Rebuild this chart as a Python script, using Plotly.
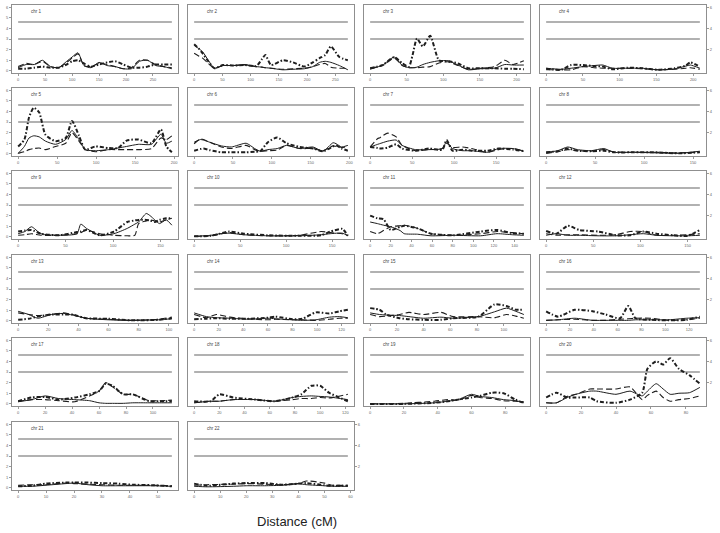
import plotly.graph_objects as go

# genetic length of each chromosome (cM) and x tick spacing
chrom_len = [285, 272, 210, 209, 197, 198, 183, 157, 162, 167, 149, 163,
             102, 125, 115, 129, 114, 122, 91, 88, 55, 59]
tick_step = [50] * 10 + [20, 50] + [20] * 8 + [10, 10]
thresholds = [3.0, 4.6]

# positions (cM) and LOD scores: solid, dashed, dash-dot
c1_pos = [0, 15, 30, 45, 60, 75, 90, 100, 111, 122, 135, 150, 165, 180, 195, 210, 225, 240, 255, 270, 285]
c1_sol = [0.3, 0.6, 0.6, 1.0, 0.4, 0.3, 0.9, 1.3, 1.7, 0.5, 0.3, 0.8, 0.5, 0.4, 0.2, 0.2, 0.9, 1.0, 0.5, 0.4, 0.2]
c1_das = [0.4, 0.7, 0.6, 0.9, 0.4, 0.3, 0.8, 1.2, 1.6, 0.5, 0.4, 0.7, 0.6, 0.4, 0.2, 0.3, 1.0, 1.0, 0.6, 0.4, 0.3]
c1_dot = [0.2, 0.2, 0.3, 0.4, 0.3, 0.3, 0.6, 0.9, 1.0, 0.7, 0.4, 0.6, 0.8, 0.9, 0.6, 0.3, 0.3, 0.4, 0.6, 0.6, 0.6]

c2_pos = [0, 8, 15, 25, 36, 51, 70, 90, 110, 120, 126, 136, 157, 175, 195, 210, 222, 232, 242, 257, 272]
c2_sol = [2.4, 2.1, 1.8, 1.0, 0.25, 0.5, 0.5, 0.55, 0.4, 0.35, 0.3, 0.25, 0.1, 0.15, 0.2, 0.4, 0.8, 0.9, 0.8, 0.5, 0.1]
c2_das = [1.65, 1.4, 1.2, 0.7, 0.25, 0.5, 0.5, 0.6, 0.4, 0.35, 0.3, 0.25, 0.15, 0.2, 0.25, 0.4, 0.6, 0.7, 0.35, 0.25, 0.25]
c2_dot = [2.5, 2.1, 1.65, 0.9, 0.25, 0.55, 0.5, 0.55, 0.45, 1.1, 1.5, 0.55, 1.0, 0.8, 0.4, 0.8, 1.2, 1.5, 2.3, 1.3, 1.0]

c3_pos = [0, 17, 33, 44, 53, 58, 64, 72, 82, 94, 107, 120, 134, 150, 170, 184, 195, 210]
c3_sol = [0.15, 0.55, 1.3, 0.5, 0.3, 0.3, 0.35, 0.6, 0.8, 0.95, 0.95, 0.55, 0.1, 0.2, 0.25, 0.6, 0.55, 0.55]
c3_das = [0.25, 0.5, 1.2, 0.5, 0.3, 0.3, 0.3, 0.35, 0.4, 0.75, 0.85, 0.5, 0.15, 0.25, 0.4, 1.0, 0.6, 0.95]
c3_dot = [0.25, 0.55, 1.3, 0.7, 0.4, 1.5, 3.05, 2.3, 3.3, 1.0, 0.9, 0.7, 0.25, 0.25, 0.25, 0.2, 0.2, 0.15]

c4_pos = [0, 20, 34, 50, 65, 77, 90, 110, 130, 153, 175, 190, 196, 209]
c4_sol = [0.25, 0.15, 0.25, 0.4, 0.5, 0.55, 0.25, 0.25, 0.25, 0.1, 0.2, 0.45, 0.55, 0.25]
c4_das = [0.1, 0.1, 0.1, 0.4, 0.3, 0.25, 0.25, 0.25, 0.2, 0.1, 0.15, 0.25, 0.3, 0.15]
c4_dot = [0.2, 0.1, 0.55, 0.55, 0.45, 0.4, 0.15, 0.3, 0.25, 0.1, 0.25, 0.5, 0.8, 0.4]

c5_pos = [0, 8, 14, 20, 27, 35, 48, 61, 69, 78, 86, 99, 116, 128, 139, 154, 171, 183, 190, 197]
c5_sol = [0.05, 0.7, 1.5, 1.7, 1.6, 1.2, 0.9, 1.35, 2.2, 1.35, 0.4, 0.3, 0.4, 0.55, 0.7, 0.9, 0.9, 1.85, 1.0, 1.2]
c5_das = [0.05, 0.2, 0.4, 0.5, 0.55, 0.4, 0.7, 1.0, 2.0, 1.2, 0.4, 0.2, 0.4, 0.4, 0.4, 0.4, 0.5, 1.5, 1.35, 1.7]
c5_dot = [0.7, 1.35, 3.45, 4.35, 3.9, 1.8, 1.2, 1.5, 3.1, 1.7, 0.4, 0.7, 0.55, 0.55, 1.25, 1.35, 1.0, 2.3, 0.7, 0.15]

c6_pos = [0, 8, 12, 20, 35, 48, 67, 78, 85, 95, 107, 119, 136, 153, 166, 179, 183, 190, 198]
c6_sol = [1.1, 1.35, 1.3, 1.1, 0.75, 0.65, 1.0, 0.5, 0.25, 0.4, 0.5, 0.8, 0.5, 0.65, 0.25, 1.05, 0.95, 0.65, 0.8]
c6_das = [0.95, 1.4, 1.35, 1.1, 0.65, 0.5, 0.8, 0.4, 0.25, 0.3, 0.35, 0.8, 0.5, 0.5, 0.3, 0.75, 0.7, 0.6, 0.65]
c6_dot = [0.3, 0.45, 0.5, 0.35, 0.15, 0.15, 0.15, 0.2, 0.25, 1.1, 1.55, 1.0, 0.65, 0.5, 0.25, 0.7, 0.8, 0.5, 0.3]

c7_pos = [0, 9, 11, 21, 31, 38, 54, 70, 86, 91, 98, 110, 121, 140, 153, 170, 183]
c7_sol = [0.65, 0.9, 0.95, 1.2, 1.3, 0.8, 0.4, 0.4, 0.5, 1.15, 0.5, 0.3, 0.3, 0.15, 0.5, 0.5, 0.25]
c7_das = [0.65, 1.45, 1.5, 1.95, 1.6, 0.8, 0.3, 0.4, 0.5, 1.0, 0.6, 0.65, 0.5, 0.15, 0.4, 0.5, 0.25]
c7_dot = [0.65, 0.55, 0.5, 0.6, 0.9, 0.5, 0.3, 0.5, 0.4, 1.3, 0.3, 0.4, 0.3, 0.3, 0.5, 0.4, 0.25]

c8_pos = [0, 12, 22, 32, 46, 59, 69, 90, 110, 135, 157]
c8_sol = [0.15, 0.3, 0.65, 0.4, 0.3, 0.5, 0.15, 0.15, 0.1, 0.05, 0.25]
c8_das = [0.05, 0.2, 0.4, 0.3, 0.25, 0.4, 0.2, 0.15, 0.15, 0.1, 0.15]
c8_dot = [0.15, 0.25, 0.5, 0.3, 0.25, 0.3, 0.15, 0.15, 0.15, 0.05, 0.15]

c9_pos = [0, 7, 14, 24, 43, 62, 66, 72, 86, 101, 115, 123, 127, 135, 139, 144, 149, 156, 162]
c9_sol = [0.3, 0.5, 0.95, 0.3, 0.15, 0.3, 1.2, 0.8, 0.15, 0.3, 0.8, 1.2, 1.4, 2.2, 2.0, 1.6, 1.25, 1.6, 1.1]
c9_das = [0.15, 0.2, 0.3, 0.15, 0.15, 0.3, 0.4, 0.65, 0.3, 0.15, 0.1, 0.15, 1.25, 1.5, 1.6, 1.5, 1.4, 1.6, 1.75]
c9_dot = [0.5, 0.6, 0.65, 0.3, 0.15, 0.45, 0.5, 0.65, 0.15, 0.5, 1.4, 1.55, 1.6, 1.6, 1.55, 1.4, 1.6, 1.75, 1.75]

c10_pos = [0, 18, 28, 38, 54, 80, 114, 138, 148, 161, 167]
c10_sol = [0.05, 0.15, 0.3, 0.35, 0.2, 0.1, 0.1, 0.2, 0.3, 0.35, 0.1]
c10_das = [0.05, 0.1, 0.25, 0.4, 0.2, 0.1, 0.15, 0.5, 0.4, 0.3, 0.15]
c10_dot = [0.05, 0.1, 0.3, 0.5, 0.3, 0.15, 0.1, 0.15, 0.5, 0.75, 0.1]

c11_pos = [0, 7, 13, 20, 29, 33, 46, 59, 81, 107, 123, 138, 149]
c11_sol = [1.4, 1.25, 1.1, 0.95, 0.6, 0.3, 0.25, 0.1, 0.15, 0.1, 0.3, 0.2, 0.15]
c11_das = [0.5, 0.3, 0.6, 0.95, 1.05, 1.1, 0.8, 0.3, 0.15, 0.3, 0.5, 0.4, 0.3]
c11_dot = [2.0, 1.75, 1.65, 0.65, 0.95, 1.05, 0.8, 0.3, 0.15, 0.5, 0.65, 0.35, 0.3]

c12_pos = [0, 11, 23, 35, 55, 74, 89, 103, 117, 135, 150, 163]
c12_sol = [0.15, 0.3, 0.15, 0.15, 0.1, 0.1, 0.2, 0.3, 0.15, 0.1, 0.1, 0.15]
c12_das = [0.3, 0.15, 0.2, 0.2, 0.15, 0.2, 0.5, 0.5, 0.15, 0.15, 0.2, 0.3]
c12_dot = [0.55, 0.3, 1.05, 0.65, 0.5, 0.15, 0.15, 0.5, 0.3, 0.15, 0.1, 0.65]

c13_pos = [0, 7, 13, 22, 30, 36, 45, 60, 75, 93, 102]
c13_sol = [0.9, 0.6, 0.25, 0.6, 0.7, 0.55, 0.25, 0.1, 0.05, 0.1, 0.2]
c13_das = [0.75, 0.6, 0.5, 0.6, 0.75, 0.6, 0.25, 0.15, 0.05, 0.15, 0.35]
c13_dot = [0.1, 0.2, 0.4, 0.6, 0.6, 0.6, 0.25, 0.2, 0.05, 0.1, 0.25]

c14_pos = [0, 10, 18, 29, 44, 60, 66, 80, 88, 99, 110, 118, 125]
c14_sol = [0.75, 0.4, 0.3, 0.25, 0.15, 0.25, 0.2, 0.1, 0.05, 0.1, 0.35, 0.4, 0.3]
c14_das = [0.6, 0.3, 0.6, 0.35, 0.2, 0.1, 0.15, 0.1, 0.1, 0.05, 0.15, 0.25, 0.25]
c14_dot = [0.15, 0.2, 0.25, 0.2, 0.2, 0.3, 0.4, 0.15, 0.2, 0.8, 0.7, 0.9, 1.05]

c15_pos = [0, 7, 12, 22, 29, 40, 53, 62, 81, 93, 102, 109, 115]
c15_sol = [0.75, 0.6, 0.55, 0.5, 0.4, 0.25, 0.35, 0.25, 0.4, 0.85, 1.2, 0.9, 0.6]
c15_das = [0.6, 0.4, 0.45, 0.6, 0.8, 0.6, 0.8, 0.4, 0.4, 0.3, 0.6, 0.45, 0.25]
c15_dot = [1.2, 1.05, 0.6, 0.25, 0.15, 0.1, 0.1, 0.25, 0.4, 1.55, 1.4, 1.05, 1.05]

c16_pos = [0, 10, 24, 39, 50, 62, 69, 75, 88, 103, 118, 129]
c16_sol = [0.05, 0.1, 0.25, 0.05, 0.05, 0.05, 0.05, 0.1, 0.1, 0.1, 0.25, 0.3]
c16_das = [0.05, 0.1, 0.15, 0.05, 0.05, 0.15, 0.2, 0.25, 0.25, 0.05, 0.1, 0.25]
c16_dot = [0.9, 0.4, 1.05, 0.9, 0.6, 0.25, 1.4, 0.25, 0.1, 0.05, 0.1, 0.4]

c17_pos = [0, 10, 20, 30, 42, 53, 60, 65, 70, 78, 85, 97, 105, 114]
c17_sol = [0.2, 0.4, 0.75, 0.5, 0.4, 0.3, 0.1, 0.05, 0.05, 0.05, 0.1, 0.1, 0.1, 0.1]
c17_das = [0.25, 0.4, 0.4, 0.3, 0.2, 0.75, 1.2, 2.0, 1.6, 0.9, 0.9, 0.3, 0.3, 0.35]
c17_dot = [0.25, 0.6, 0.65, 0.4, 0.6, 0.9, 1.2, 1.9, 1.7, 0.9, 0.9, 0.25, 0.25, 0.25]

c18_pos = [0, 13, 20, 31, 49, 64, 78, 85, 93, 100, 107, 122]
c18_sol = [0.1, 0.25, 0.25, 0.4, 0.4, 0.25, 0.6, 0.7, 0.75, 0.7, 0.65, 0.4]
c18_das = [0.1, 0.25, 0.25, 0.4, 0.4, 0.25, 0.4, 0.5, 0.5, 0.6, 0.55, 0.9]
c18_dot = [0.25, 0.25, 0.9, 0.6, 0.4, 0.25, 0.6, 0.9, 1.7, 1.7, 1.05, 0.25]

c19_pos = [0, 20, 38, 46, 52, 60, 65, 72, 79, 86, 91]
c19_sol = [0.0, 0.0, 0.1, 0.25, 0.4, 0.9, 0.7, 0.6, 0.4, 0.3, 0.1]
c19_das = [0.0, 0.05, 0.25, 0.4, 0.35, 0.8, 0.6, 0.5, 0.3, 0.25, 0.2]
c19_dot = [0.0, 0.0, 0.1, 0.25, 0.4, 0.6, 0.75, 1.05, 1.0, 0.4, 0.1]

c20_pos = [0, 6, 12, 17, 25, 29, 40, 48, 55, 58, 63, 67, 71, 76, 82, 88]
c20_sol = [0.1, 0.1, 0.6, 0.9, 1.2, 1.2, 0.9, 1.2, 0.75, 1.2, 1.9, 1.4, 0.9, 1.0, 1.05, 1.55]
c20_das = [0.1, 0.1, 0.7, 0.9, 1.4, 1.4, 1.4, 1.6, 0.4, 0.8, 1.2, 0.6, 0.25, 0.4, 0.5, 0.75]
c20_dot = [0.6, 1.05, 0.6, 0.6, 0.6, 0.25, 0.1, 0.4, 1.05, 3.3, 4.0, 3.7, 4.3, 3.3, 2.7, 1.9]

c21_pos = [0, 5, 10, 17, 20, 25, 30, 36, 41, 48, 55]
c21_sol = [0.15, 0.15, 0.25, 0.4, 0.45, 0.3, 0.2, 0.2, 0.2, 0.2, 0.15]
c21_das = [0.25, 0.3, 0.3, 0.45, 0.4, 0.35, 0.3, 0.25, 0.25, 0.25, 0.2]
c21_dot = [0.15, 0.2, 0.4, 0.5, 0.5, 0.5, 0.45, 0.4, 0.3, 0.25, 0.15]

c22_pos = [0, 5, 15, 20, 27, 34, 40, 43, 50, 53, 59]
c22_sol = [0.15, 0.1, 0.15, 0.2, 0.2, 0.25, 0.4, 0.3, 0.2, 0.15, 0.15]
c22_das = [0.25, 0.3, 0.35, 0.4, 0.35, 0.3, 0.4, 0.65, 0.45, 0.25, 0.25]
c22_dot = [0.4, 0.2, 0.4, 0.45, 0.45, 0.3, 0.4, 0.45, 0.25, 0.2, 0.2]

chroms = [
    (c1_pos, c1_sol, c1_das, c1_dot), (c2_pos, c2_sol, c2_das, c2_dot),
    (c3_pos, c3_sol, c3_das, c3_dot), (c4_pos, c4_sol, c4_das, c4_dot),
    (c5_pos, c5_sol, c5_das, c5_dot), (c6_pos, c6_sol, c6_das, c6_dot),
    (c7_pos, c7_sol, c7_das, c7_dot), (c8_pos, c8_sol, c8_das, c8_dot),
    (c9_pos, c9_sol, c9_das, c9_dot), (c10_pos, c10_sol, c10_das, c10_dot),
    (c11_pos, c11_sol, c11_das, c11_dot), (c12_pos, c12_sol, c12_das, c12_dot),
    (c13_pos, c13_sol, c13_das, c13_dot), (c14_pos, c14_sol, c14_das, c14_dot),
    (c15_pos, c15_sol, c15_das, c15_dot), (c16_pos, c16_sol, c16_das, c16_dot),
    (c17_pos, c17_sol, c17_das, c17_dot), (c18_pos, c18_sol, c18_das, c18_dot),
    (c19_pos, c19_sol, c19_das, c19_dot), (c20_pos, c20_sol, c20_das, c20_dot),
    (c21_pos, c21_sol, c21_das, c21_dot), (c22_pos, c22_sol, c22_das, c22_dot),
]

W, H = 720, 533
col_left = [12, 188, 364, 540]
row_top = [5, 88, 171, 255, 338, 422]
box_w, box_h = 166, 68
tick_font = dict(size=4, color='#666', family='Arial')
ink = '#1e1e1e'

fig = go.Figure()
layout = {}
annotations = []
right_panels = [3, 7, 11, 15, 19, 21]

for i, (pos, sol, das, dot) in enumerate(chroms):
    n = i + 1
    r, c = divmod(i, 4)
    L = chrom_len[i]
    xs = '' if n == 1 else str(n)
    x0 = col_left[c] / W
    x1 = (col_left[c] + box_w) / W
    y1 = 1 - row_top[r] / H
    y0 = 1 - (row_top[r] + box_h) / H

    layout['xaxis' + xs] = dict(
        domain=[x0, x1], anchor='y' + xs, range=[-0.04 * L, 1.04 * L],
        tickmode='linear', tick0=0, dtick=tick_step[i],
        showgrid=False, zeroline=False, showline=True, mirror=True,
        linecolor='#8f8f8f', linewidth=1, ticks='outside', ticklen=2,
        tickcolor='#999', tickfont=tick_font)

    yax = dict(
        domain=[y0, y1], anchor='x' + xs, range=[-0.2, 6.2],
        showgrid=False, zeroline=False, showline=True, mirror=True,
        linecolor='#8f8f8f', linewidth=1, ticklen=2, tickcolor='#999',
        tickfont=tick_font, showticklabels=False, ticks='')
    if c == 0:
        # LOD scale on the left
        yax.update(tickmode='linear', tick0=0, dtick=1,
                   ticks='outside', showticklabels=True)
    elif i in right_panels:
        # second scale on the right of the last panel in a row
        yax.update(side='right', tickvals=[2, 4, 6],
                   ticks='outside', showticklabels=True)
    layout['yaxis' + xs] = yax

    for t in thresholds:
        fig.add_trace(go.Scatter(
            x=[0, L], y=[t, t], mode='lines', xaxis='x' + xs, yaxis='y' + xs,
            line=dict(color='#979797', width=1.3), hoverinfo='skip', showlegend=False))

    fig.add_trace(go.Scatter(
        x=pos, y=sol, mode='lines', xaxis='x' + xs, yaxis='y' + xs,
        line=dict(color=ink, width=1, shape='spline', smoothing=0.6),
        showlegend=False))
    fig.add_trace(go.Scatter(
        x=pos, y=das, mode='lines', xaxis='x' + xs, yaxis='y' + xs,
        line=dict(color=ink, width=1.1, dash='6px,3px', shape='spline', smoothing=0.6),
        showlegend=False))
    fig.add_trace(go.Scatter(
        x=pos, y=dot, mode='lines', xaxis='x' + xs, yaxis='y' + xs,
        line=dict(color=ink, width=2, dash='4px,2px,1.5px,2px', shape='spline', smoothing=0.6),
        showlegend=False))

    annotations.append(dict(
        text='chr ' + str(n), xref='x' + xs + ' domain', yref='y' + xs + ' domain',
        x=0.1, y=0.9, xanchor='left', yanchor='middle', showarrow=False,
        font=dict(size=4.5, color='#444', family='Arial')))

annotations.append(dict(
    text='Distance (cM)', xref='paper', yref='paper', x=297 / W, y=1 - 521 / H,
    xanchor='center', yanchor='middle', showarrow=False,
    font=dict(size=13, color='#222', family='Arial')))

fig.update_layout(
    width=W, height=H, margin=dict(l=0, r=0, t=0, b=0),
    paper_bgcolor='white', plot_bgcolor='white',
    showlegend=False, annotations=annotations, **layout)

# drop the default page margin so the 720x533 figure fills the window
fig.write_html('out.html', config={'displayModeBar': False},
               post_script="document.body.style.margin='0';")
